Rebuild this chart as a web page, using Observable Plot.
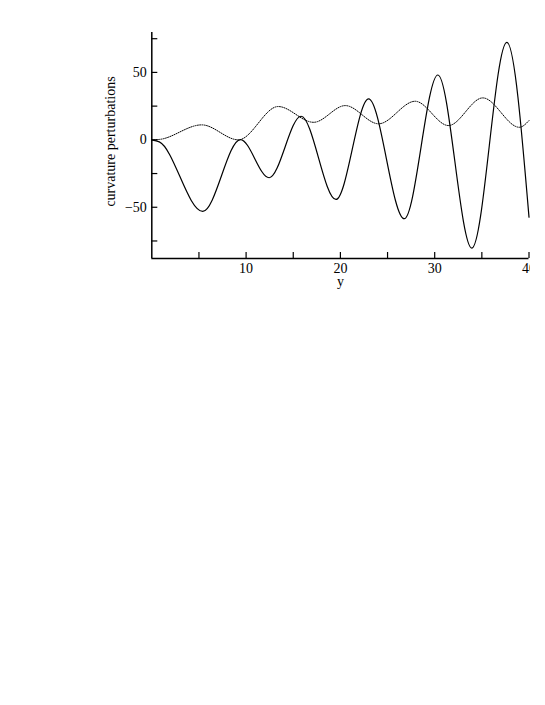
<!DOCTYPE html>
<html><head><meta charset="utf-8">
<script src="https://cdn.jsdelivr.net/npm/d3@7"></script>
<script src="https://cdn.jsdelivr.net/npm/@observablehq/plot@0.6"></script>
<style>body{margin:0;background:#fff}</style>
</head><body><div id="chart"></div>
<script>
// Solid curve: read turning points (y-coordinate vs curvature perturbation)
const solidX = [0, 0.8, 5.40, 9.40, 12.44, 15.83, 19.53, 22.99, 26.77, 30.34, 33.94, 37.65, 40];
const solidY = [0, -1.5, -53.1, 0.2, -28.1, 17.5, -44.2, 30.4, -58.5, 48.1, -80.3, 72.3, -57.3];
// Dotted curve
const dotX = [0, 0.8, 5.30, 9.18, 13.4, 17.16, 20.52, 24.05, 27.93, 31.46, 35.10, 38.98, 40];
const dotY = [0, 0.3, 11.1, 0, 24.7, 13.0, 25.4, 11.9, 28.6, 10.6, 31.1, 9.3, 14.3];

const xTicks = [5, 10, 15, 20, 25, 30, 35, 40];
const xLabels = [10, 20, 30, 40];
const yTicks = [-75, -50, -25, 0, 25, 50, 75];
const yLabels = [-50, 0, 50];
const xDomain = [0, 40];
const yDomain = [-88, 79.6];
const xTitle = "y";
const yTitle = "curvature perturbations";

const solid = solidX.map((x, i) => ({x, y: solidY[i]}));
const dotted = dotX.map((x, i) => ({x, y: dotY[i]}));

const W = 530, H = 300, mL = 151.3, mR = 1.5, mT = 32, mB = 42;
const frameW = W - mL - mR, frameH = H - mT - mB;

const chart = Plot.plot({
  width: W, height: H,
  marginLeft: mL, marginRight: mR, marginTop: mT, marginBottom: mB,
  style: {fontFamily: "'Liberation Serif', 'DejaVu Serif', serif", fontSize: "14px", color: "#000", background: "#fff"},
  x: {domain: xDomain},
  y: {domain: yDomain},
  marks: [
    Plot.line(dotted, {x: "x", y: "y", curve: "monotone-x", stroke: "#000", strokeWidth: 1, strokeDasharray: "1,1.3"}),
    Plot.line(solid, {x: "x", y: "y", curve: "monotone-x", stroke: "#000", strokeWidth: 1.2}),
    Plot.ruleX([xDomain[0]], {stroke: "#000", strokeWidth: 1.5}),
    Plot.ruleY([yDomain[0]], {stroke: "#000", strokeWidth: 1.5}),
    Plot.tickX(xTicks, {x: d => d, insetTop: frameH - 6, stroke: "#000", strokeWidth: 1.2}),
    Plot.tickY(yTicks, {y: d => d, insetRight: frameW - 6, stroke: "#000", strokeWidth: 1.2}),
    Plot.axisX({ticks: xLabels, tickSize: 0, tickPadding: 5, label: null, fontSize: 14}),
    Plot.axisY({ticks: yLabels, tickSize: 0, tickPadding: 5, label: null, fontSize: 14}),
    Plot.text([xTitle], {text: d => d, frameAnchor: "bottom", lineAnchor: "middle", textAnchor: "middle", dy: 23, fontSize: 14}),
    Plot.text([yTitle], {text: d => d, frameAnchor: "left", textAnchor: "middle", lineAnchor: "middle", rotate: -90, dx: -41, dy: -4, fontSize: 14})
  ]
});
document.getElementById("chart").appendChild(chart);
</script>
</body></html>
